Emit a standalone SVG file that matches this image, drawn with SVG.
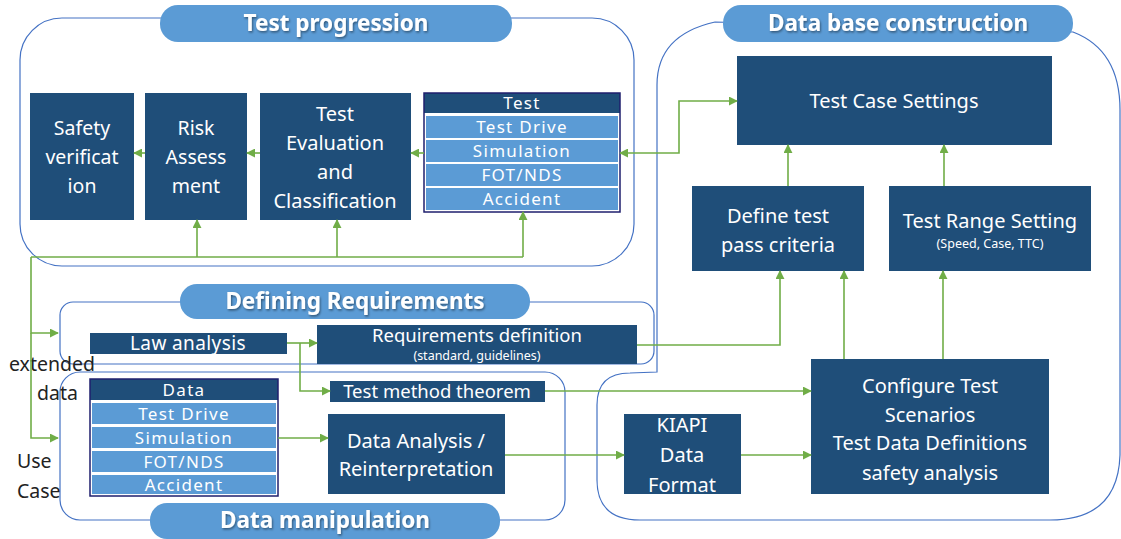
<svg xmlns="http://www.w3.org/2000/svg" width="1121" height="539" viewBox="0 0 1121 539">
<defs>
<style>
.cont{fill:none;stroke:#4472C4;stroke-width:1.2}
.pill{fill:#5B9BD5}
.ttl{font-family:"Noto Sans",sans-serif;font-weight:bold;font-size:22.5px;fill:#fff;text-anchor:middle;filter:url(#sh)}
.nv{fill:#1F4E79}
.lb{fill:#5B9BD5}
.t{font-family:"Noto Sans",sans-serif;font-size:20px;fill:#fff;text-anchor:middle}
.tn{font-family:"Noto Sans",sans-serif;font-size:19.5px;fill:#fff;text-anchor:middle}
.tr{font-family:"Noto Sans",sans-serif;font-size:17px;fill:#fff;text-anchor:middle;letter-spacing:1.3px}
.tl{font-family:"Noto Sans",sans-serif;font-size:19px;fill:#fff;text-anchor:middle;letter-spacing:0.4px}
.ts{font-family:"Noto Sans",sans-serif;font-size:18.5px;fill:#fff;text-anchor:middle}
.tx{font-family:"Noto Sans",sans-serif;font-size:12.5px;fill:#fff;text-anchor:middle}
.side{font-family:"Noto Sans",sans-serif;font-size:19.5px;fill:#222}
.c{fill:none;stroke:#70AD47;stroke-width:1.6}
.frame{fill:none;stroke:#1F1F6E;stroke-width:1.5}
</style>
<filter id="sh" x="-10%" y="-30%" width="120%" height="160%"><feDropShadow dx="1" dy="1.5" stdDeviation="0.8" flood-color="#000" flood-opacity="0.45"/></filter>
<marker id="ah" viewBox="0 0 10 10" refX="9" refY="5" markerWidth="9" markerHeight="9" markerUnits="userSpaceOnUse" orient="auto-start-reverse"><path d="M0,0 L10,5 L0,10 z" fill="#70AD47"/></marker>
</defs>

<g id="containers">
<rect class="cont" x="20" y="18" width="614" height="248" rx="42"/>
<path class="cont" d="M657,372 L657,85 Q657,35 715,22 L1073,32 Q1120,50 1120,110 L1120,455 Q1118,520 1050,520 L640,520 Q597,520 597,480 L597,405 Q597,373 630,373 Z"/>
<rect class="cont" x="60" y="302" width="594" height="62" rx="13"/>
<rect class="cont" x="60" y="372" width="505" height="148" rx="20"/>
</g>

<g id="title-test-progression"><rect class="pill" x="160" y="5" width="352" height="37" rx="18"/><text class="ttl" x="336" y="31">Test progression</text></g>
<g id="title-database"><rect class="pill" x="723" y="5" width="350" height="37" rx="18"/><text class="ttl" x="898" y="31">Data base construction</text></g>
<g id="title-requirements"><rect class="pill" x="180" y="284" width="350" height="35" rx="17"/><text class="ttl" x="355" y="309">Defining Requirements</text></g>
<g id="title-manipulation"><rect class="pill" x="150" y="503" width="350" height="36" rx="17"/><text class="ttl" x="325" y="528">Data manipulation</text></g>

<g id="safety"><rect class="nv" x="30" y="93" width="104" height="127"/><text class="tn" x="82" y="135">Safety</text><text class="tn" x="82" y="164">verificat</text><text class="tn" x="82" y="193">ion</text></g>
<g id="risk"><rect class="nv" x="145" y="93" width="102" height="127"/><text class="tn" x="196" y="135">Risk</text><text class="tn" x="196" y="164">Assess</text><text class="tn" x="196" y="193">ment</text></g>
<g id="evaluation"><rect class="nv" x="260" y="93" width="151" height="127"/><text class="t" x="335" y="121">Test</text><text class="t" x="335" y="150">Evaluation</text><text class="t" x="335" y="179">and</text><text class="t" x="335" y="208">Classification</text></g>
<g id="test">
<rect fill="#fff" x="424" y="93" width="196" height="119"/>
<rect class="nv" x="424" y="93" width="196" height="20"/>
<rect class="lb" x="426" y="116" width="192" height="22"/>
<rect class="lb" x="426" y="140" width="192" height="22"/>
<rect class="lb" x="426" y="164" width="192" height="22"/>
<rect class="lb" x="426" y="188" width="192" height="22"/>
<rect class="frame" x="424" y="93" width="196" height="119"/>
<text class="tr" x="522" y="109">Test</text><text class="tr" x="522" y="133">Test Drive</text><text class="tr" x="522" y="157">Simulation</text><text class="tr" x="522" y="181">FOT/NDS</text><text class="tr" x="522" y="205">Accident</text>
</g>

<g id="test-case-settings"><rect class="nv" x="737" y="56" width="315" height="89"/><text class="t" x="894" y="108">Test Case Settings</text></g>
<g id="define-criteria"><rect class="nv" x="692" y="186" width="172" height="85"/><text class="t" x="778" y="223">Define test</text><text class="t" x="778" y="252">pass criteria</text></g>
<g id="test-range"><rect class="nv" x="889" y="186" width="202" height="85"/><text class="t" x="990" y="228">Test Range Setting</text><text class="tx" x="990" y="248">(Speed, Case, TTC)</text></g>

<g id="law"><rect class="nv" x="90" y="333" width="197" height="21"/><text class="tl" x="188" y="350">Law analysis</text></g>
<g id="requirements"><rect class="nv" x="317" y="325" width="320" height="39"/><text class="ts" x="477" y="342">Requirements definition</text><text class="tx" x="477" y="360">(standard, guidelines)</text></g>
<g id="test-method"><rect class="nv" x="330" y="381" width="215" height="21"/><text class="ts" x="437" y="398">Test method theorem</text></g>

<g id="data">
<rect fill="#fff" x="90" y="379" width="188" height="117"/>
<rect class="nv" x="90" y="379" width="188" height="21"/>
<rect class="lb" x="92" y="403" width="184" height="21"/>
<rect class="lb" x="92" y="427" width="184" height="21"/>
<rect class="lb" x="92" y="451" width="184" height="21"/>
<rect class="lb" x="92" y="475" width="184" height="19"/>
<rect class="frame" x="90" y="379" width="188" height="117"/>
<text class="tr" x="184" y="396">Data</text><text class="tr" x="184" y="420">Test Drive</text><text class="tr" x="184" y="444">Simulation</text><text class="tr" x="184" y="468">FOT/NDS</text><text class="tr" x="184" y="491">Accident</text>
</g>
<g id="data-analysis"><rect class="nv" x="328" y="414" width="177" height="80"/><text class="t" x="416" y="448">Data Analysis /</text><text class="t" x="416" y="476">Reinterpretation</text></g>
<g id="kiapi"><rect class="nv" x="624" y="414" width="117" height="80"/><text class="t" x="682" y="432">KIAPI</text><text class="t" x="682" y="462">Data</text><text class="t" x="682" y="492">Format</text></g>
<g id="configure"><rect class="nv" x="811" y="359" width="238" height="135"/><text class="t" x="930" y="393">Configure Test</text><text class="t" x="930" y="422">Scenarios</text><text class="t" x="930" y="450">Test Data Definitions</text><text class="t" x="930" y="480">safety analysis</text></g>

<g id="side-labels">
<text class="side" x="9" y="371">extended</text>
<text class="side" x="37" y="400">data</text>
<text class="side" x="17" y="468">Use</text>
<text class="side" x="17" y="498">Case</text>
</g>

<g id="connectors">
<path class="c" marker-end="url(#ah)" d="M424,153 L411,153"/>
<path class="c" marker-end="url(#ah)" d="M260,153 L247,153"/>
<path class="c" marker-end="url(#ah)" d="M145,153 L134,153"/>
<path class="c" marker-end="url(#ah)" d="M197,257 L197,220"/>
<path class="c" marker-end="url(#ah)" d="M337,257 L337,220"/>
<path class="c" marker-end="url(#ah)" d="M523,257 L523,212"/>
<path class="c" d="M31,257 L523,257"/>
<path class="c" marker-end="url(#ah)" d="M31,257 L31,333 L58,333"/>
<path class="c" marker-end="url(#ah)" d="M31,333 L31,438 L58,438"/>
<path class="c" marker-start="url(#ah)" marker-end="url(#ah)" d="M620,153 L679,153 L679,101 L737,101"/>
<path class="c" marker-end="url(#ah)" d="M287,343 L317,343"/>
<path class="c" marker-end="url(#ah)" d="M300,343 L300,391 L330,391"/>
<path class="c" marker-end="url(#ah)" d="M545,391 L811,391"/>
<path class="c" marker-end="url(#ah)" d="M637,345 L780,345 L780,271"/>
<path class="c" marker-end="url(#ah)" d="M844,359 L844,271"/>
<path class="c" marker-end="url(#ah)" d="M943,359 L943,271"/>
<path class="c" marker-end="url(#ah)" d="M788,186 L788,145"/>
<path class="c" marker-end="url(#ah)" d="M944,186 L944,145"/>
<path class="c" marker-end="url(#ah)" d="M278,438 L328,438"/>
<path class="c" marker-end="url(#ah)" d="M505,455 L624,455"/>
<path class="c" marker-end="url(#ah)" d="M741,455 L811,455"/>
</g>
</svg>
